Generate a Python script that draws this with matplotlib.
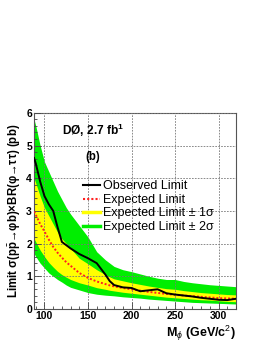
import matplotlib
matplotlib.use("Agg")
import matplotlib.pyplot as plt
from matplotlib.ticker import MultipleLocator
from matplotlib.lines import Line2D

plt.rcParams['font.family'] = ['Liberation Sans', 'DejaVu Sans']
plt.rcParams['mathtext.fontset'] = 'custom'
plt.rcParams['mathtext.rm'] = 'Liberation Sans'
plt.rcParams['mathtext.bf'] = 'Liberation Sans:bold'
plt.rcParams['mathtext.it'] = 'Liberation Sans:italic'

masses = [88, 90, 95, 100, 105, 110, 115, 120, 125, 130, 140, 150, 160, 170, 175,
          180, 190, 200, 210, 220, 230, 240, 250, 260, 270, 280, 290, 300, 310, 320]
observed = [4.62, 4.45, 3.9, 3.45, 3.2, 3.0, 2.5, 2.05, 1.95, 1.85, 1.68, 1.55, 1.4, 1.05, 0.85,
            0.73, 0.66, 0.64, 0.54, 0.57, 0.6, 0.48, 0.44, 0.41, 0.38, 0.34, 0.31, 0.28, 0.27, 0.31]
expected = [2.98, 2.88, 2.6, 2.37, 2.12, 1.9, 1.72, 1.57, 1.43, 1.32, 1.1, 0.95, 0.84, 0.76, 0.72,
            0.69, 0.64, 0.6, 0.56, 0.52, 0.49, 0.46, 0.43, 0.41, 0.39, 0.37, 0.35, 0.33, 0.32, 0.31]
one_sigma_up = [4.0, 3.85, 3.45, 3.1, 2.85, 2.6, 2.35, 2.15, 2.0, 1.85, 1.55, 1.38, 1.2, 1.05, 0.98,
                0.92, 0.86, 0.8, 0.75, 0.7, 0.66, 0.62, 0.6, 0.56, 0.53, 0.5, 0.48, 0.46, 0.44, 0.43]
one_sigma_dn = [2.15, 2.05, 1.8, 1.6, 1.42, 1.28, 1.15, 1.05, 0.97, 0.9, 0.8, 0.73, 0.65, 0.6, 0.57,
                0.55, 0.51, 0.48, 0.45, 0.42, 0.39, 0.36, 0.34, 0.32, 0.3, 0.28, 0.27, 0.25, 0.23, 0.22]
two_sigma_up = [5.8, 5.6, 5.0, 4.5, 4.2, 3.9, 3.6, 3.35, 3.1, 2.9, 2.55, 2.2, 1.75, 1.5, 1.4,
                1.3, 1.2, 1.14, 1.07, 1.0, 0.94, 0.9, 0.9, 0.84, 0.8, 0.77, 0.74, 0.72, 0.7, 0.68]
two_sigma_dn = [1.7, 1.6, 1.4, 1.25, 1.1, 1.0, 0.9, 0.82, 0.73, 0.66, 0.58, 0.5, 0.45, 0.42, 0.41,
                0.4, 0.37, 0.35, 0.33, 0.3, 0.28, 0.26, 0.24, 0.22, 0.2, 0.19, 0.18, 0.17, 0.16, 0.15]

x_ticks = [100, 150, 200, 250, 300]
y_ticks = [0, 1, 2, 3, 4, 5, 6]

fig = plt.figure(figsize=(2.66, 3.44), dpi=100)
ax = fig.add_axes([0.128, 0.102, 0.759, 0.570])

green = '#00ee00'
yellow = '#ffff00'
ax.fill_between(masses, two_sigma_dn, two_sigma_up, color=green, lw=0, zorder=1)
ax.fill_between(masses, one_sigma_dn, one_sigma_up, color=yellow, lw=0, zorder=2)
ax.plot(masses, expected, color='#ff2020', lw=1.4, ls=(0, (1, 1)), zorder=3)
ax.plot(masses, observed, color='black', lw=1.4, zorder=4)

ax.set_xlim(88, 320)
ax.set_ylim(0, 6)
ax.set_xticks(x_ticks)
ax.set_yticks(y_ticks)
ax.xaxis.set_minor_locator(MultipleLocator(10))
ax.yaxis.set_minor_locator(MultipleLocator(0.2))
ax.tick_params(which='both', direction='in', labelsize=7.5, pad=1.5, color='#444444')
ax.tick_params(which='major', length=5, width=0.6)
ax.tick_params(which='minor', length=2.5, width=0.6)
for lab in ax.get_xticklabels() + ax.get_yticklabels():
    lab.set_fontweight('bold')
ax.grid(True, which='major', ls=(0, (2, 1.5)), color='#777777', lw=0.6, zorder=5)
ax.set_axisbelow(False)
for s in ax.spines.values():
    s.set_color('#555555')
    s.set_linewidth(0.8)

ax.set_ylabel(r'Limit σ(p$\bar{\mathbf{p}}$→φb)×BR(φ→ττ) (pb)', fontsize=8.3,
              fontweight='bold', labelpad=2)
ax.yaxis.set_label_coords(-0.055, 0.5)
ax.set_xlabel(r'M$_{\phi}$ (GeV/c$^{2}$)', fontsize=9, fontweight='bold')
ax.xaxis.set_label_coords(1.0, -0.075)
ax.xaxis.label.set_horizontalalignment('right')

ax.text(0.14, 0.91, r'DØ, 2.7 fb$^{\mathbf{1}}$', transform=ax.transAxes, fontsize=8.6,
        fontweight='bold', va='center')
ax.text(0.255, 0.776, '(b)', transform=ax.transAxes, fontsize=8.3, fontweight='bold',
        va='center')

handles = [Line2D([], [], color='black', lw=1.5),
           Line2D([], [], color='#ff2020', lw=1.5, ls=(0, (1, 1))),
           Line2D([], [], color=yellow, lw=2.5),
           Line2D([], [], color=green, lw=2.5)]
labels = ['Observed Limit', 'Expected Limit', 'Expected Limit ± 1σ', 'Expected Limit ± 2σ']
ax.legend(handles, labels, loc='upper left', bbox_to_anchor=(0.24, 0.655), frameon=False,
          fontsize=9, handlelength=1.36, handletextpad=0.3, labelspacing=0.12,
          borderpad=0, borderaxespad=0)

fig.savefig('out.png', dpi=100)
